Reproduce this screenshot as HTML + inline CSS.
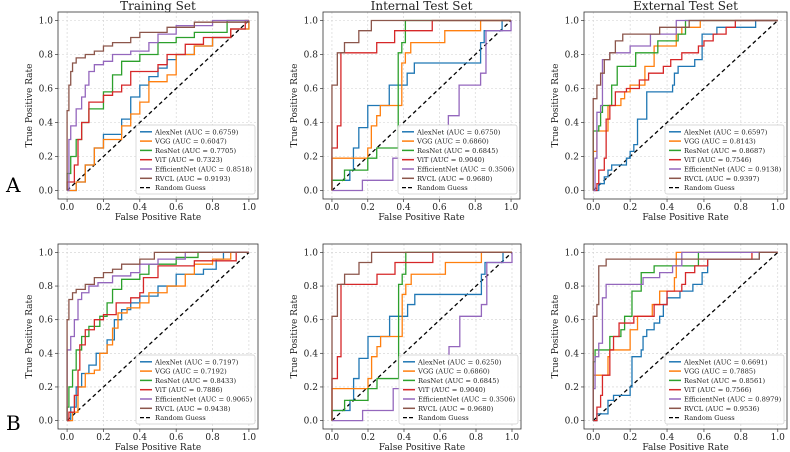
<!DOCTYPE html>
<html><head><meta charset="utf-8"><style>
body{margin:0;background:#fff;width:790px;height:452px;overflow:hidden}
svg{display:block;font-family:"DejaVu Serif","Liberation Serif",serif}
</style></head><body>
<svg id="fig" width="790" height="452" viewBox="0 0 790 452">
<text x="6" y="192" font-size="20">A</text>
<text x="6" y="430" font-size="20">B</text>
</svg>
<script>
const modelNames = ["AlexNet","VGG","ResNet","ViT","EfficientNet","RVCL"];
const modelColors = ["#1f77b4","#ff7f0e","#2ca02c","#d62728","#9467bd","#8c564b"];
const tickLabels = ["0.0","0.2","0.4","0.6","0.8","1.0"];
const tickValues = [0,0.2,0.4,0.6,0.8,1.0];

const titles = ["Training Set","Internal Test Set","External Test Set","","",""];
const aucA1 = ["0.6759","0.6047","0.7705","0.7323","0.8518","0.9193"];
const aucA2 = ["0.6750","0.6860","0.6845","0.9040","0.3506","0.9680"];
const aucA3 = ["0.6597","0.8143","0.8687","0.7546","0.9138","0.9397"];
const aucB1 = ["0.7197","0.7192","0.8433","0.7886","0.9065","0.9438"];
const aucB2 = ["0.6250","0.6860","0.6845","0.9040","0.3506","0.9680"];
const aucB3 = ["0.6691","0.7885","0.8561","0.7566","0.8979","0.9536"];

const rocA1 = [
 [[0.05,0.05],[0.1,0.15],[0.15,0.25],[0.2,0.33],[0.3,0.42],[0.35,0.55],[0.4,0.62],[0.45,0.67],[0.5,0.72],[0.55,0.77],[0.6,0.8],[0.7,0.85],[0.8,0.9],[0.9,0.95],[1,1]],
 [[0.05,0.05],[0.1,0.15],[0.15,0.25],[0.2,0.3],[0.3,0.38],[0.35,0.45],[0.4,0.52],[0.45,0.64],[0.55,0.68],[0.6,0.8],[0.7,0.85],[0.8,0.9],[0.9,0.95],[1,1]],
 [[0,0.1],[0.02,0.2],[0.05,0.3],[0.08,0.4],[0.12,0.48],[0.2,0.58],[0.25,0.68],[0.3,0.76],[0.4,0.8],[0.5,0.87],[0.6,0.9],[0.7,0.93],[0.88,1],[1,1]],
 [[0,0.05],[0.04,0.15],[0.06,0.3],[0.08,0.4],[0.12,0.52],[0.2,0.56],[0.25,0.58],[0.3,0.62],[0.35,0.7],[0.5,0.74],[0.55,0.8],[0.65,0.86],[0.75,0.9],[0.9,0.95],[0.98,1],[1,1]],
 [[0.01,0.3],[0.02,0.38],[0.05,0.48],[0.08,0.55],[0.1,0.62],[0.12,0.7],[0.15,0.74],[0.2,0.76],[0.25,0.8],[0.35,0.82],[0.45,0.87],[0.5,0.92],[0.6,0.97],[0.8,1],[1,1]],
 [[0,0.47],[0.01,0.62],[0.02,0.7],[0.03,0.75],[0.05,0.78],[0.1,0.8],[0.15,0.82],[0.2,0.85],[0.25,0.87],[0.35,0.9],[0.4,0.93],[0.55,0.96],[0.7,0.99],[1,1]]
];
const rocA2 = [
 [[0,0.06],[0.1,0.12],[0.12,0.25],[0.15,0.37],[0.2,0.5],[0.32,0.62],[0.42,0.69],[0.46,0.75],[0.83,0.87],[0.85,0.94],[0.95,1],[1,1]],
 [[0,0.19],[0.2,0.25],[0.22,0.38],[0.25,0.44],[0.27,0.5],[0.39,0.75],[0.41,0.81],[0.44,0.87],[0.63,0.94],[0.83,1],[1,1]],
 [[0,0.06],[0.07,0.12],[0.2,0.19],[0.25,0.25],[0.37,0.81],[0.39,0.87],[0.41,1],[1,1]],
 [[0,0.25],[0.03,0.38],[0.05,0.81],[0.25,0.87],[0.35,0.94],[0.56,1],[1,1]],
 [[0.17,0.06],[0.34,0.19],[0.65,0.44],[0.71,0.62],[0.83,0.69],[0.86,0.94],[1,1]],
 [[0,0.62],[0.03,0.81],[0.07,0.87],[0.15,0.94],[0.22,1],[1,1]]
];
const rocA3 = [
 [[0.03,0.04],[0.06,0.08],[0.08,0.12],[0.1,0.15],[0.18,0.19],[0.2,0.23],[0.22,0.27],[0.24,0.42],[0.29,0.58],[0.43,0.62],[0.44,0.69],[0.46,0.73],[0.55,0.77],[0.59,0.92],[0.67,0.96],[0.88,1],[1,1]],
 [[0,0.23],[0.02,0.35],[0.08,0.5],[0.15,0.54],[0.17,0.58],[0.2,0.62],[0.28,0.73],[0.33,0.85],[0.45,0.92],[0.48,0.96],[0.58,1],[1,1]],
 [[0,0.35],[0.03,0.38],[0.04,0.46],[0.05,0.5],[0.1,0.62],[0.13,0.73],[0.23,0.81],[0.35,0.88],[0.46,0.92],[0.5,1],[1,1]],
 [[0.02,0.04],[0.03,0.12],[0.06,0.19],[0.07,0.42],[0.09,0.5],[0.12,0.58],[0.18,0.6],[0.25,0.65],[0.3,0.69],[0.38,0.73],[0.42,0.77],[0.48,0.81],[0.57,0.85],[0.6,0.88],[0.65,0.92],[0.72,0.96],[0.77,1],[1,1]],
 [[0.01,0.19],[0.02,0.46],[0.04,0.5],[0.05,0.77],[0.09,0.81],[0.2,0.85],[0.31,0.92],[0.45,1],[1,1]],
 [[0,0.54],[0.02,0.62],[0.04,0.69],[0.06,0.77],[0.09,0.81],[0.12,0.88],[0.16,0.92],[0.36,0.96],[0.52,1],[1,1]]
];
const rocB1 = [
 [[0.02,0.08],[0.05,0.2],[0.08,0.28],[0.12,0.33],[0.16,0.4],[0.22,0.48],[0.26,0.6],[0.3,0.66],[0.35,0.7],[0.4,0.74],[0.5,0.8],[0.6,0.87],[0.75,0.9],[0.82,0.96],[0.86,1],[1,1]],
 [[0.03,0.05],[0.06,0.2],[0.1,0.28],[0.15,0.3],[0.18,0.4],[0.22,0.45],[0.25,0.55],[0.28,0.64],[0.33,0.67],[0.4,0.7],[0.45,0.76],[0.55,0.8],[0.65,0.87],[0.7,0.93],[0.8,0.96],[0.9,1],[1,1]],
 [[0,0.08],[0.01,0.2],[0.03,0.3],[0.05,0.42],[0.08,0.5],[0.12,0.56],[0.18,0.62],[0.22,0.7],[0.25,0.78],[0.3,0.84],[0.4,0.87],[0.45,0.93],[0.6,0.97],[0.72,1],[1,1]],
 [[0.01,0.05],[0.04,0.15],[0.06,0.3],[0.07,0.45],[0.1,0.54],[0.15,0.6],[0.2,0.63],[0.27,0.7],[0.35,0.73],[0.4,0.76],[0.42,0.85],[0.5,0.92],[0.7,0.95],[0.93,1],[1,1]],
 [[0,0.42],[0.02,0.5],[0.04,0.6],[0.06,0.72],[0.08,0.76],[0.12,0.8],[0.17,0.82],[0.25,0.86],[0.35,0.88],[0.4,0.93],[0.5,0.96],[0.65,1],[1,1]],
 [[0,0.6],[0.01,0.72],[0.03,0.76],[0.05,0.78],[0.1,0.81],[0.15,0.85],[0.2,0.88],[0.25,0.9],[0.3,0.93],[0.4,0.96],[0.48,1],[1,1]]
];
const rocB2 = rocA2;
const rocB3 = [
 [[0.02,0.04],[0.08,0.12],[0.11,0.15],[0.2,0.2],[0.21,0.38],[0.26,0.42],[0.27,0.5],[0.29,0.54],[0.33,0.58],[0.36,0.62],[0.38,0.69],[0.4,0.73],[0.47,0.77],[0.54,0.81],[0.59,0.88],[0.62,0.96],[0.9,1],[1,1]],
 [[0,0.27],[0.08,0.38],[0.09,0.42],[0.2,0.54],[0.24,0.62],[0.32,0.69],[0.36,0.77],[0.44,0.85],[0.45,1],[1,1]],
 [[0,0.35],[0.01,0.42],[0.09,0.5],[0.15,0.54],[0.17,0.62],[0.21,0.77],[0.26,0.88],[0.33,0.92],[0.57,1],[1,1]],
 [[0.02,0.08],[0.04,0.15],[0.05,0.27],[0.09,0.42],[0.11,0.5],[0.14,0.58],[0.22,0.62],[0.33,0.69],[0.4,0.77],[0.48,0.81],[0.5,0.88],[0.55,0.92],[0.62,0.96],[0.86,1],[1,1]],
 [[0,0.19],[0.01,0.38],[0.03,0.46],[0.05,0.73],[0.07,0.81],[0.27,0.85],[0.36,0.88],[0.43,0.92],[0.48,1],[1,1]],
 [[0,0.62],[0.02,0.69],[0.03,0.92],[0.07,0.96],[0.9,1],[1,1]]
];

const panelData = [rocA1,rocA2,rocA3,rocB1,rocB2,rocB3];
const panelAuc = [aucA1,aucA2,aucA3,aucB1,aucB2,aucB3];
const panelIds = ["a-training","a-internal","a-external","b-training","b-internal","b-external"];
const frames = [[58,258,12,199],[323,520,12,199],[584,787,12,199],[58,258,244,429],[323,521,244,429],[584,787,244,429]];

const NS="http://www.w3.org/2000/svg";
const svg=document.getElementById('fig');
function mk(tag,attrs,parent,text){const e=document.createElementNS(NS,tag);for(const k in attrs)e.setAttribute(k,attrs[k]);if(text!=null)e.textContent=text;(parent||svg).appendChild(e);return e;}

for(let p=0;p<6;p++){
  const [L,R,T,B]=frames[p];
  const g=mk('g',{});
  
  
  const padX=(R-L)/1.1*0.05, padY=(B-T)/1.1*0.05;
  const sx=v=>L+padX+v*(R-L-2*padX);
  const sy=v=>B-padY-v*(B-T-2*padY);
  tickValues.forEach((v,i)=>{
    const gx=mk('line',{x1:sx(v),x2:sx(v),y1:T,y2:B,stroke:'#d0d0d0','stroke-width':0.6,'stroke-dasharray':'2,2'},g);
    
    
    const gy=mk('line',{x1:L,x2:R,y1:sy(v),y2:sy(v),stroke:'#d0d0d0','stroke-width':0.6,'stroke-dasharray':'2,2'},g);
    
    
    mk('line',{x1:sx(v),x2:sx(v),y1:B,y2:B+3,stroke:'#333','stroke-width':0.7},g);
    mk('line',{x1:L-3,x2:L,y1:sy(v),y2:sy(v),stroke:'#333','stroke-width':0.7},g);
    const tx=mk('text',{x:sx(v),y:B+11,'font-size':9,'text-anchor':'middle',fill:'#222'},g,tickLabels[i]);
    
    
    const ty=mk('text',{x:L-5,y:sy(v)+3,'font-size':9,'text-anchor':'end',fill:'#222'},g,tickLabels[i]);
    
    
  });
  const diag=mk('line',{x1:sx(0),y1:sy(0),x2:sx(1),y2:sy(1),stroke:'#000','stroke-width':1.3,'stroke-dasharray':'4,3'},g);
  
  
  panelData[p].forEach((pts,m)=>{
    let d='M'+sx(0)+','+sy(0);let py=0;
    pts.forEach(([x,y])=>{d+=' L'+sx(x)+','+sy(py)+' L'+sx(x)+','+sy(y);py=y;});
    const c=mk('path',{d:d,fill:'none',stroke:modelColors[m],'stroke-width':1.3},g);
    
    
  });
  const fr=mk('rect',{x:L,y:T,width:R-L,height:B-T,fill:'none',stroke:'#333','stroke-width':0.8},g);
  
  
  if(titles[p]){
    const t=mk('text',{x:(L+R)/2,y:T-2,'font-size':12,'text-anchor':'middle',fill:'#222'},g,titles[p]);
    
    
  }
  const xl=mk('text',{x:(L+R)/2,y:B+21,'font-size':9,'text-anchor':'middle',fill:'#222'},g,'False Positive Rate');
  
  
  const yx=L-26, yy=(T+B)/2;
  const yl=mk('text',{x:yx,y:yy,'font-size':9,'text-anchor':'middle',fill:'#222',transform:'rotate(-90 '+yx+' '+yy+')'},g,'True Positive Rate');
  
  
  const lw=119, lh=69, lx=R-lw-3, ly=B-lh-5;
  const lg=mk('g',{},g);
  
  
  mk('rect',{x:lx,y:ly,width:lw,height:lh,fill:'#fff','fill-opacity':0.9,stroke:'#ccc','stroke-width':0.7,rx:2},lg);
  for(let m=0;m<7;m++){
    const ey=ly+6.8+m*9.3;
    const e=mk('g',{},lg);
    
    
    if(m<6){
      mk('line',{x1:lx+4,x2:lx+16,y1:ey,y2:ey,stroke:modelColors[m],'stroke-width':1.5},e);
      mk('text',{x:lx+19,y:ey+2.5,'font-size':6.7,fill:'#222'},e,modelNames[m]+' (AUC = '+panelAuc[p][m]+')');
    } else {
      mk('line',{x1:lx+4,x2:lx+16,y1:ey,y2:ey,stroke:'#000','stroke-width':1.3,'stroke-dasharray':'4,2'},e);
      mk('text',{x:lx+19,y:ey+2.5,'font-size':6.7,fill:'#222'},e,'Random Guess');
    }
  }
}
</script>
</body></html>
